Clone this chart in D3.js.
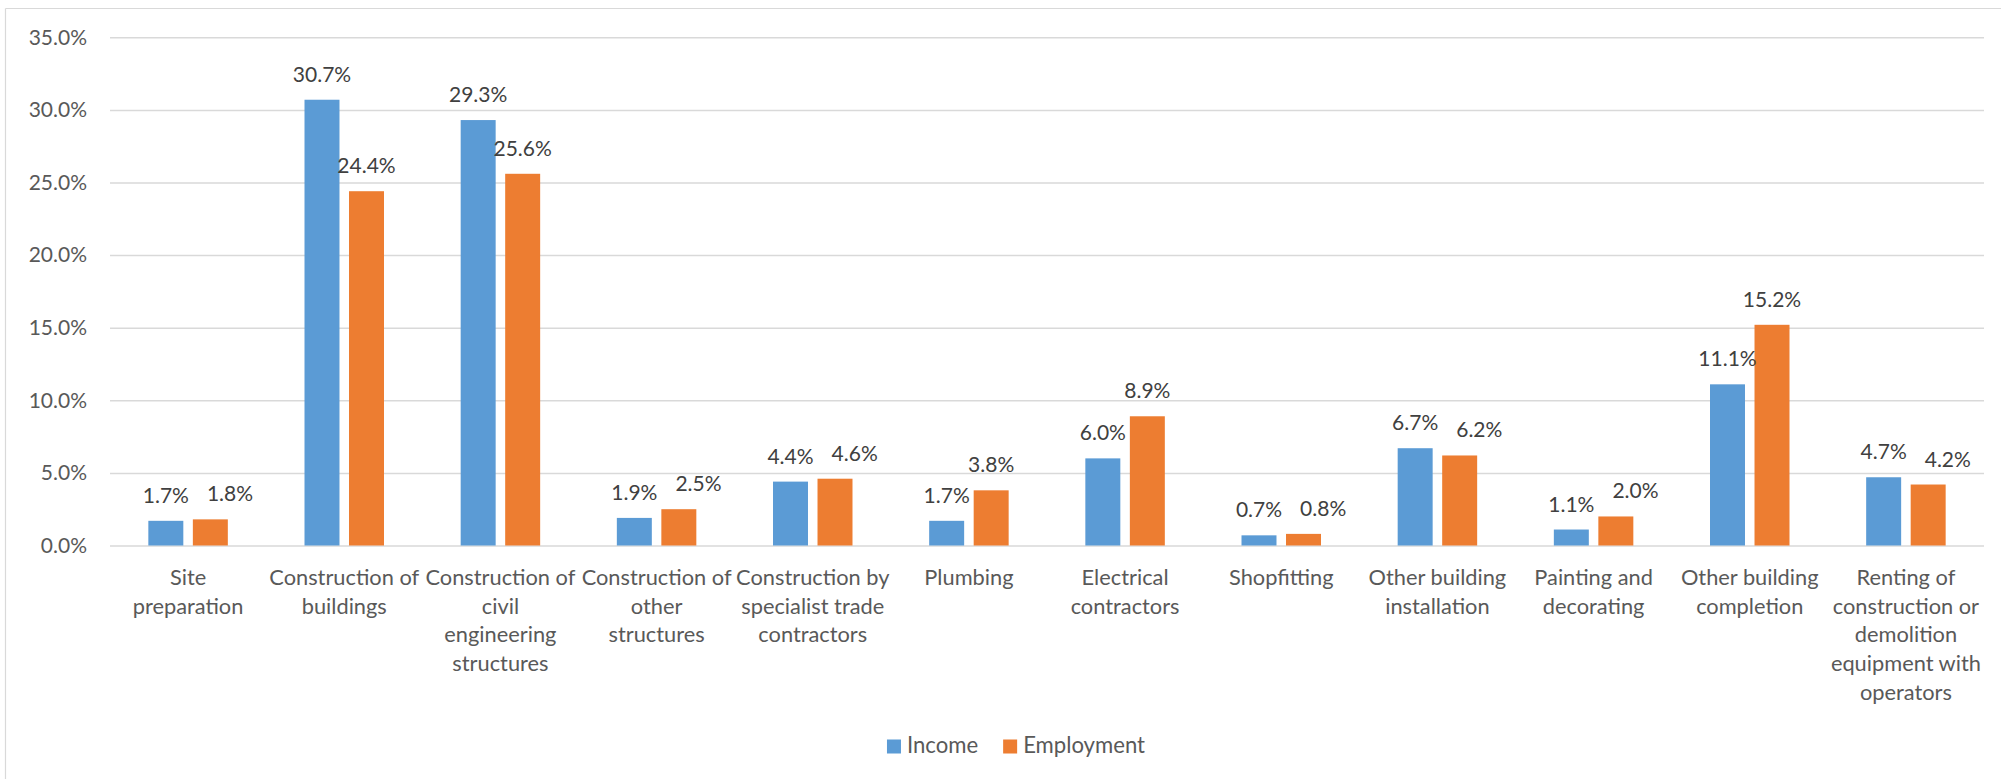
<!DOCTYPE html>
<html>
<head>
<meta charset="utf-8">
<script src="https://cdn.jsdelivr.net/npm/d3@7"></script>
<style>
  html, body { margin: 0; padding: 0; background: #ffffff; }
  svg { display: block; }
  text { font-family: Lato, "Noto Sans", sans-serif; }
</style>
</head>
<body>
<svg id="chart" width="2001" height="779"></svg>
<script>
// category names; "\n" marks the line breaks used in the original axis labels
const categories = [
  "Site\npreparation",
  "Construction of\nbuildings",
  "Construction of\ncivil\nengineering\nstructures",
  "Construction of\nother\nstructures",
  "Construction by\nspecialist trade\ncontractors",
  "Plumbing",
  "Electrical\ncontractors",
  "Shopfitting",
  "Other building\ninstallation",
  "Painting and\ndecorating",
  "Other building\ncompletion",
  "Renting of\nconstruction or\ndemolition\nequipment with\noperators"
];
const seriesNames = ["Income", "Employment"];
const income     = [1.7, 30.7, 29.3, 1.9, 4.4, 1.7, 6.0, 0.7, 6.7, 1.1, 11.1, 4.7];
const employment = [1.8, 24.4, 25.6, 2.5, 4.6, 3.8, 8.9, 0.8, 6.2, 2.0, 15.2, 4.2];
const yTicks = [0, 5, 10, 15, 20, 25, 30, 35];

const colors = ["#5B9BD5", "#ED7D31"];
const svg = d3.select("#chart");

// chart border (top + left visible)
svg.append("line").attr("x1", 5.5).attr("x2", 2001).attr("y1", 8.5).attr("y2", 8.5)
  .attr("stroke", "#d9d9d9").attr("stroke-width", 1.2);
svg.append("line").attr("x1", 5.5).attr("x2", 5.5).attr("y1", 8.5).attr("y2", 779)
  .attr("stroke", "#d9d9d9").attr("stroke-width", 1.2);

const plotLeft = 110, plotRight = 1984, plotTop = 37.3, plotBottom = 545.5;
const x = d3.scaleBand().domain(categories).range([plotLeft, plotRight]).padding(0);
const y = d3.scaleLinear().domain([0, 35]).range([plotBottom, plotTop]);

// fit the label font so that a known label matches the reference width
function fitSize(str, target, base) {
  const t = svg.append("text").style("font-size", base + "px").text(str);
  const w = t.node().getComputedTextLength();
  t.remove();
  return base * target / w;
}
const catSize = fitSize("Construction of", 150, 21);
const legSize = fitSize("Employment", 122, 21);

// gridlines
const yAxis = d3.axisLeft(y).tickValues(yTicks).tickSize(-(plotRight - plotLeft))
  .tickFormat(d => d.toFixed(1) + "%").tickPadding(23);
const gy = svg.append("g").attr("transform", `translate(${plotLeft},0)`).call(yAxis);
gy.select(".domain").remove();
gy.selectAll(".tick line").attr("stroke", "#d9d9d9").attr("stroke-width", 1.5);
gy.selectAll(".tick text").attr("fill", "#595959").style("font-size", "21px")
  .style("font-family", "Lato, 'Noto Sans', sans-serif");

// bars
const bw = x.bandwidth();
const barW = bw * 0.224, innerGap = bw * 0.061;
const series = [income, employment];
const barX = (i, s) => x(categories[i]) + bw / 2 + (s === 0 ? -innerGap / 2 - barW : innerGap / 2);

series.forEach((vals, s) => {
  svg.append("g").selectAll("rect").data(vals).join("rect")
    .attr("x", (d, i) => barX(i, s))
    .attr("y", d => y(d))
    .attr("width", barW)
    .attr("height", d => y(0) - y(d))
    .attr("fill", colors[s]);
});

// data labels
const labelG = svg.append("g");
const labels = [[], []];
series.forEach((vals, s) => {
  vals.forEach((d, i) => {
    const t = labelG.append("text")
      .attr("x", barX(i, s) + barW / 2)
      .attr("y", y(d) - 18)
      .attr("text-anchor", "middle")
      .attr("fill", "#404040")
      .style("font-size", "21px")
      .text(d.toFixed(1) + "%");
    labels[s].push(t);
  });
});
// nudge overlapping employment labels to the right
for (let i = 0; i < categories.length; i++) {
  const a = labels[0][i].node().getBBox();
  const b = labels[1][i].node().getBBox();
  const vOverlap = Math.abs(a.y - b.y) < a.height;
  if (vOverlap && b.x < a.x + a.width + 18) {
    const shift = a.x + a.width + 18 - b.x;
    labels[1][i].attr("x", +labels[1][i].attr("x") + shift);
  }
}

// category labels
const lineH = 28.7;
const catG = svg.append("g");
categories.forEach(c => {
  const t = catG.append("text")
    .attr("text-anchor", "middle")
    .attr("fill", "#595959")
    .style("font-size", catSize + "px");
  const cx = x(c) + bw / 2;
  c.split("\n").forEach((ln, k) => {
    t.append("tspan").attr("x", cx).attr("y", plotBottom + 31 + k * lineH)
      .attr("dominant-baseline", "central").text(ln);
  });
});

// legend
const legG = svg.append("g");
let lx = 0;
seriesNames.forEach((n, s) => {
  const g = legG.append("g");
  g.append("rect").attr("x", lx).attr("y", 739.5).attr("width", 14).attr("height", 14).attr("fill", colors[s]);
  const tt = g.append("text").attr("x", lx + 20).attr("y", 753).attr("fill", "#595959")
    .style("font-size", legSize + "px").text(n);
  lx += 20 + tt.node().getComputedTextLength() + 25;
});
const legW = lx - 25;
legG.attr("transform", `translate(${1016 - legW / 2},0)`);
</script>
</body>
</html>
